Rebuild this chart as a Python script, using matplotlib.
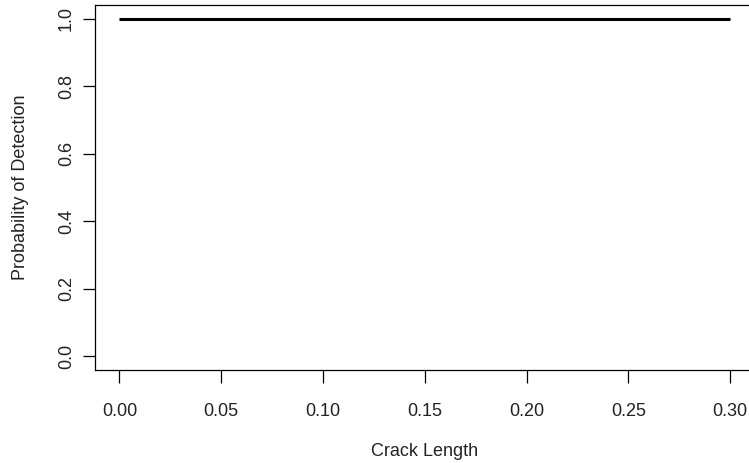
import matplotlib
matplotlib.use("Agg")
import matplotlib.pyplot as plt

# POD curve: crack length vs probability of detection
crack_length = [0.0, 0.05, 0.10, 0.15, 0.20, 0.25, 0.30]
pod = [1.0, 1.0, 1.0, 1.0, 1.0, 1.0, 1.0]

x_ticks = [0.00, 0.05, 0.10, 0.15, 0.20, 0.25, 0.30]
y_ticks = [0.0, 0.2, 0.4, 0.6, 0.8, 1.0]

plt.rcParams["font.family"] = ["Liberation Sans", "DejaVu Sans"]
plt.rcParams["font.size"] = 13

W, H = 749, 463
fig = plt.figure(figsize=(W / 100, H / 100), dpi=100)
# box runs a little past the right edge of the canvas
left, right, top, bottom = 95, 754.6, 5, 370
ax = fig.add_axes([left / W, (H - bottom) / H, (right - left) / W, (bottom - top) / H])

ax.plot(crack_length, pod, color="black", lw=2.2, solid_capstyle="butt")

# R-style 4% axis padding
ax.set_xlim(-0.012, 0.312)
ax.set_ylim(-0.04, 1.04)

ax.set_xticks(x_ticks)
ax.set_xticklabels([f"{v:.2f}" for v in x_ticks])
ax.set_yticks(y_ticks)
ax.set_yticklabels([f"{v:.1f}" for v in y_ticks], rotation=90, va="center")

for s in ax.spines.values():
    s.set_linewidth(0.9)
ax.tick_params(direction="out", length=9, width=0.9, colors="black", labelcolor="#222222")
ax.tick_params(axis="x", pad=15)
ax.tick_params(axis="y", pad=5.5)

ax.set_xlabel("Crack Length", labelpad=16.5, color="#222222")
ax.set_ylabel("Probability of Detection", labelpad=20.5, color="#222222")

fig.savefig("out.png", dpi=100)
